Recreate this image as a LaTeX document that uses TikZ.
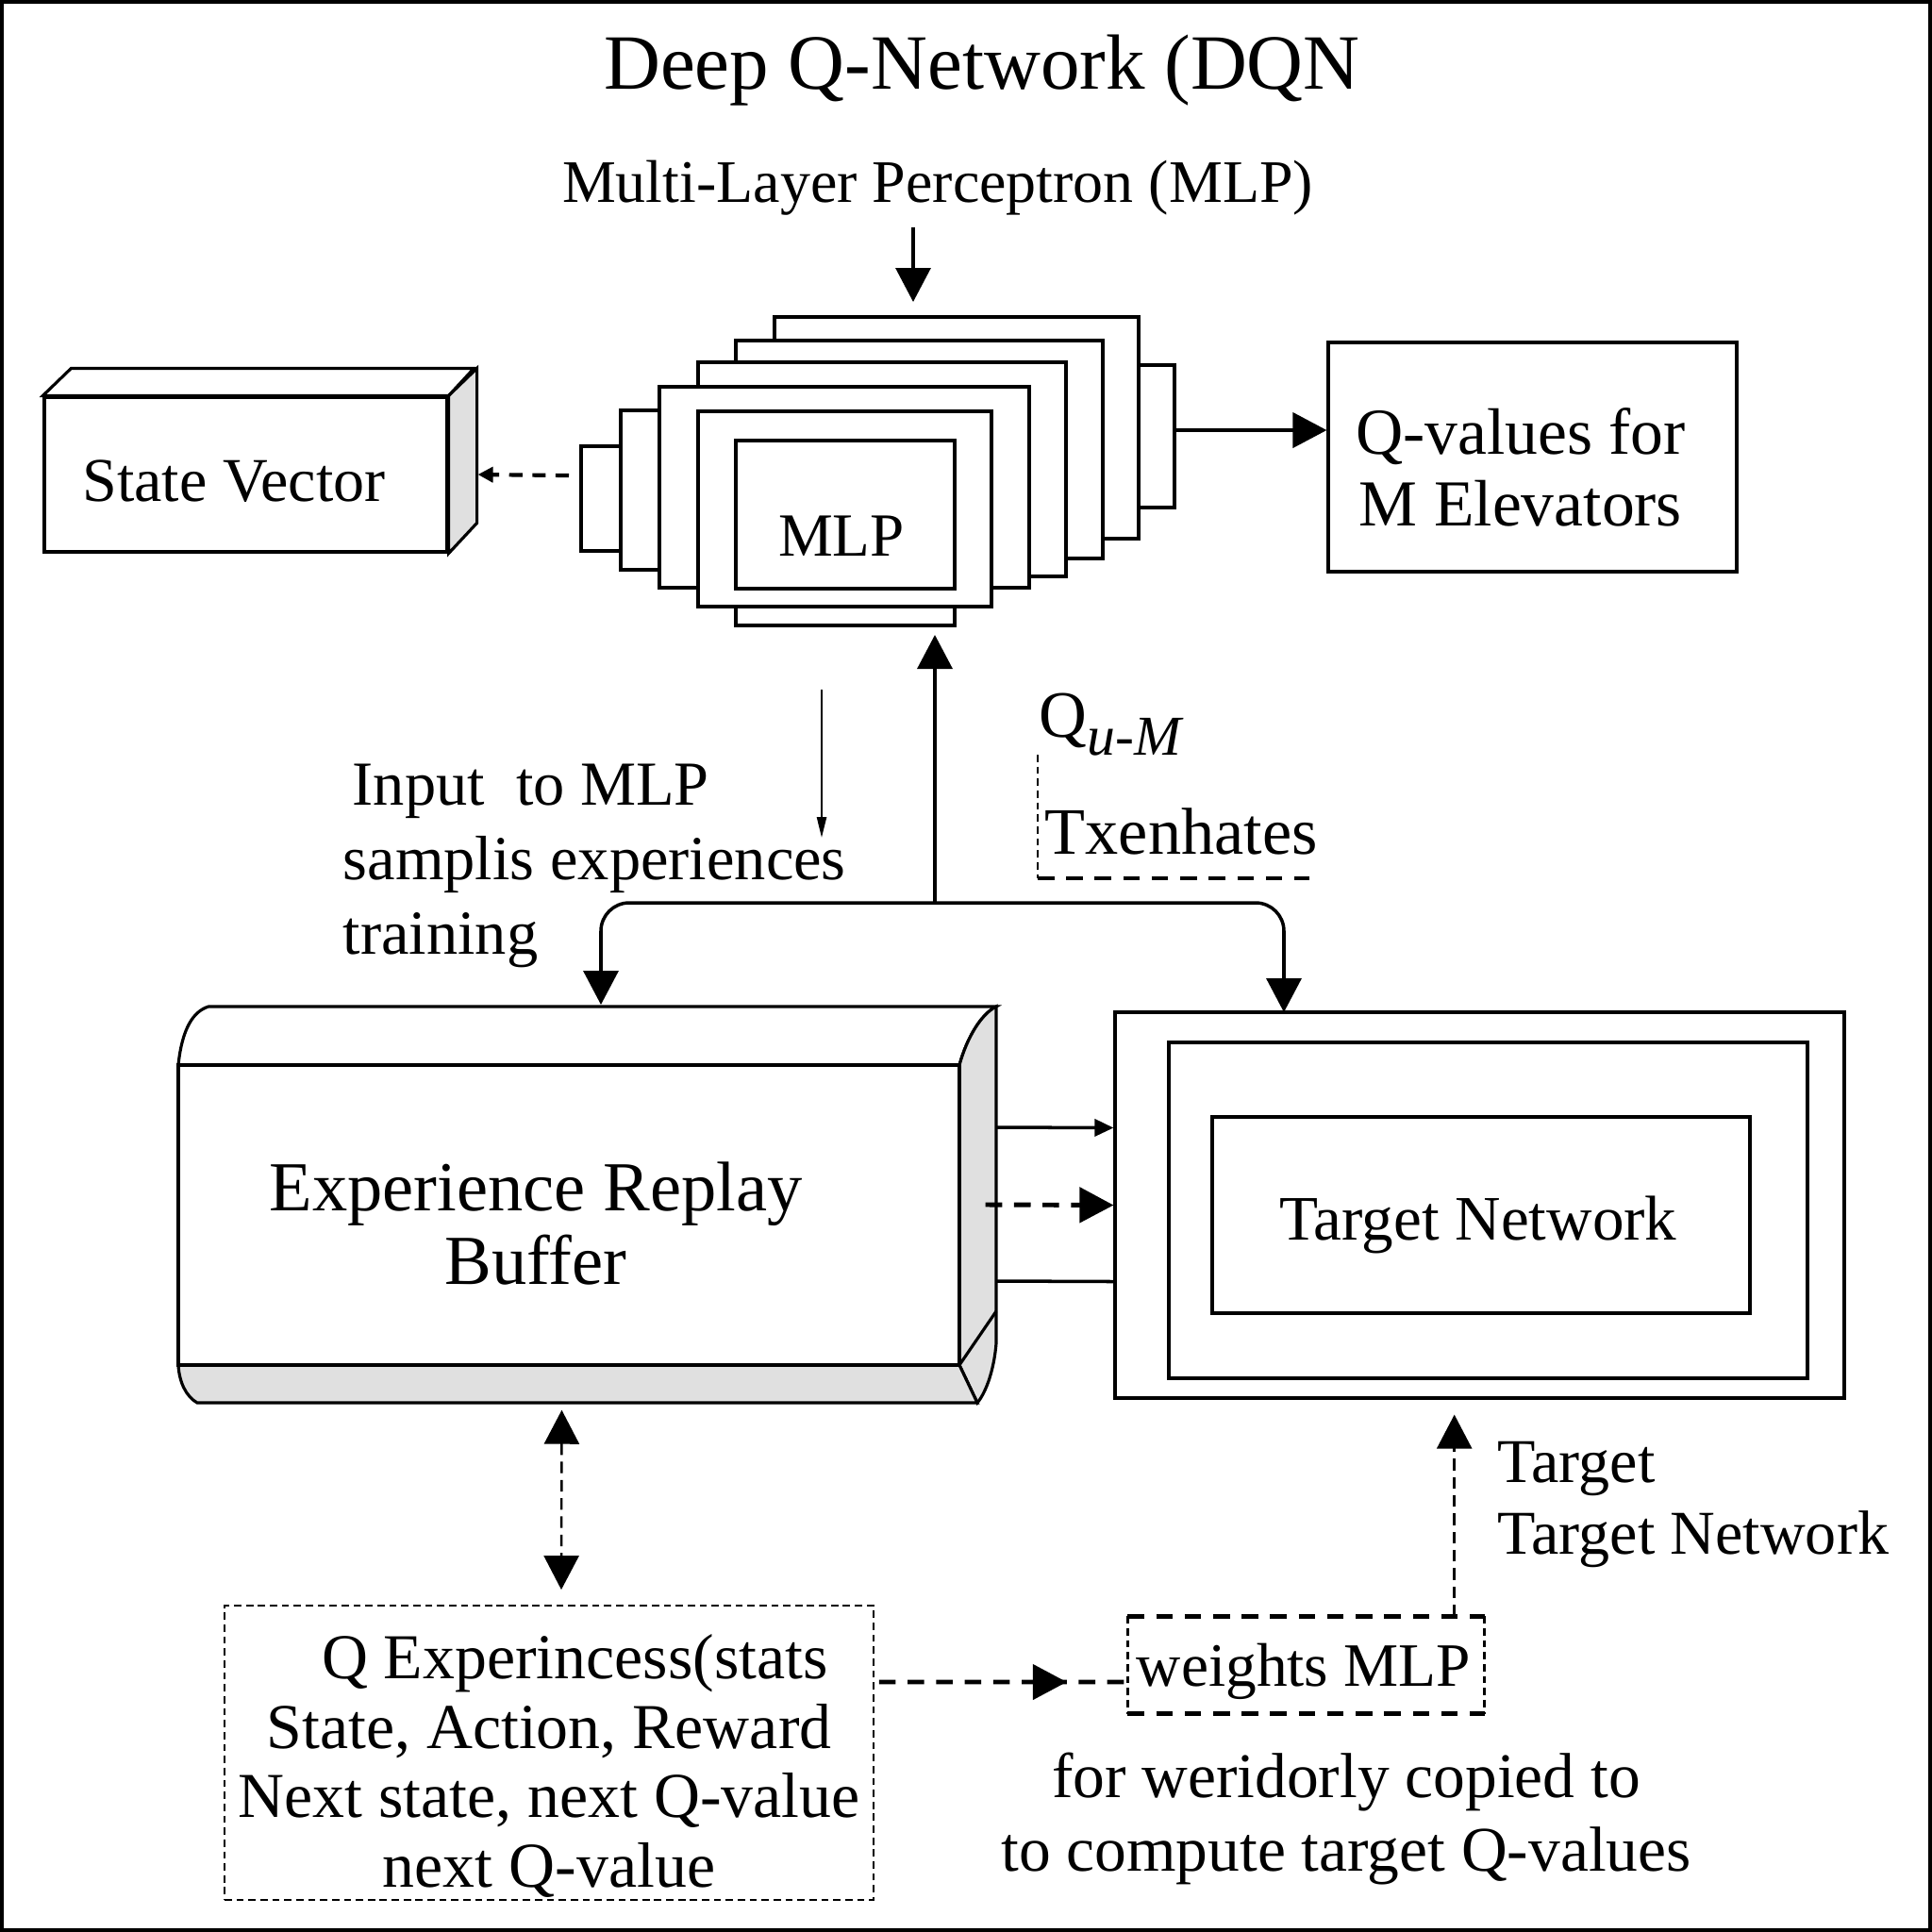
\documentclass[tikz,border=0pt]{standalone}
\usepackage{fontspec}
\setmainfont{Liberation Serif}
\usepackage{xcolor}
\usepackage{tikz}
\usetikzlibrary{arrows.meta,calc,decorations.markings}
\definecolor{sidegray}{HTML}{E0E0E0}
\tikzset{
  box/.style={draw, rectangle, line width=0.9pt, fill=white},
  bigtip/.tip={Triangle[length=0.36cm,width=0.37cm]},
  smalltip/.tip={Triangle[length=0.2cm,width=0.18cm]},
  thintip/.tip={Triangle[length=0.22cm,width=0.1cm]},
  thindash/.style={dash pattern=on 2.2pt off 1.4pt, line width=0.5pt},
  middash/.style={dash pattern=on 3.5pt off 2pt, line width=0.7pt},
  thickdash/.style={dash pattern=on 5pt off 3.6pt, line width=1.4pt},
}

\begin{document}
\begin{tikzpicture}%
\useasboundingbox (0,0) rectangle (20.48,-20.48);%
\draw[line width=1.1pt] (0.02,-0.02) rectangle (20.46,-20.46);%
\node[font=\fontsize{23.6}{28}\selectfont] (title) at (10.41,-0.75) {Deep Q-Network (DQN};%
\node[font=\fontsize{18.2}{22}\selectfont] (mlptitle) at (9.94,-1.99) {Multi-Layer Perceptron (MLP)};%
% state vector box
\node[box, minimum width=4.27cm, minimum height=1.64cm] (statevec) at (2.605,-5.03) {};%
\draw[line width=0.9pt, fill=white] (statevec.north west) -- ++(0.3,0.29) -- ++(4.27,0) -- (statevec.north east) -- cycle;%
\draw[line width=0.9pt, fill=sidegray] (statevec.north east) -- ++(0.3,0.29) -- ++(0,-1.64) -- (statevec.south east) -- cycle;%
\node[font=\fontsize{18.8}{22}\selectfont] (svtext) at (2.48,-5.10) {State Vector};%
% MLP stack
\draw[box] (6.16,-4.73) rectangle (7.00,-5.84);%
\draw[box] (6.58,-4.35) rectangle (7.20,-6.04);%
\draw[box] (11.50,-3.87) rectangle (12.45,-5.38);%
\draw[box] (7.80,-6.00) rectangle (10.12,-6.63);%
\draw[box] (8.21,-3.36) rectangle (12.07,-5.71);%
\draw[box] (7.80,-3.61) rectangle (11.69,-5.92);%
\draw[box] (7.40,-3.84) rectangle (11.30,-6.11);%
\draw[box] (6.99,-4.10) rectangle (10.91,-6.23);%
\draw[box] (7.40,-4.36) rectangle (10.51,-6.43);%
\node[box, minimum width=2.32cm, minimum height=1.57cm] (mlp) at (8.96,-5.455) {};%
\node[font=\fontsize{18.5}{22}\selectfont] (mlptext) at (8.92,-5.68) {MLP};%
\coordinate (stacktop) at (9.68,-3.20);%
\coordinate (stackbot) at (9.91,-6.73);%
\coordinate (stackleft) at (6.03,-5.04);%
\coordinate (stackright) at (12.47,-4.56);%
% Q-values box
\node[box, minimum width=4.33cm, minimum height=2.43cm] (qvals) at (16.245,-4.845) {};%
\node[align=center, font=\fontsize{19.8}{21.6}\selectfont] (qtext) at (16.12,-4.95) {Q-values for\\M Elevators};%
\draw[line width=0.9pt, -{bigtip}] (mlptitle.south -| stacktop) -- (stacktop);%
\draw[line width=1.2pt, -{bigtip}] (stackright) -- (stackright -| qvals.west);%
\draw[line width=1.2pt, dash pattern=on 4pt off 3pt, -{Triangle[length=0.16cm,width=0.16cm]}] (stackleft) -- ($(statevec.east)+(0.31,0)$);%
% middle labels
\node[anchor=west, inner sep=0, align=left, font=\fontsize{18.9}{22.5}\selectfont] (samples) at (3.63,-9.18) {\hspace*{0.1cm}Input~ to MLP\\samplis experiences\\training};%
\coordinate (downtop) at (8.71,-7.31);%
\coordinate (downbot) at (8.71,-8.88);%
\draw[line width=0.7pt, -{thintip}] (downtop) -- (downbot);%
\node[anchor=west, inner sep=0, font=\fontsize{20}{24}\selectfont] (qlabel) at (11.01,-7.68) {Q\raisebox{-0.6ex}{\fontsize{17}{20}\selectfont\textit{u}-\textit{M}}};%
\node[anchor=west, inner sep=0, font=\fontsize{20}{24}\selectfont] (txen) at (11.07,-8.81) {Txenhates};%
\draw[thindash, line width=0.7pt] (11.0,-8.0) -- (11.0,-9.31);%
\draw[thickdash] (11.0,-9.31) -- (13.88,-9.31);%
% experience replay buffer
\node[minimum width=8.67cm, minimum height=4.2cm, inner sep=0] (buffer) at (6.225,-12.77) {};%
\draw[line width=0.9pt, fill=white] (1.89,-11.29) .. controls (1.93,-10.9) and (2.05,-10.72) .. (2.21,-10.67) -- (10.56,-10.67) .. controls (10.4,-10.75) and (10.25,-11.0) .. (10.17,-11.29) -- cycle;%
\draw[line width=0.9pt, fill=sidegray] (10.17,-11.29) .. controls (10.25,-11.0) and (10.4,-10.75) .. (10.56,-10.67) -- (10.56,-14.24) .. controls (10.54,-14.5) and (10.46,-14.75) .. (10.36,-14.87) -- (10.17,-14.47) -- cycle;%
\draw[line width=0.9pt] (10.17,-14.47) -- (10.56,-13.9);%
\draw[line width=0.9pt, fill=sidegray] (1.89,-14.47) -- (10.17,-14.47) -- (10.36,-14.87) -- (2.09,-14.87) .. controls (1.97,-14.8) and (1.9,-14.65) .. (1.89,-14.47) -- cycle;%
\draw[line width=0.9pt, fill=white] (1.89,-11.29) rectangle (10.17,-14.47);%
\node[align=center, font=\fontsize{21.2}{22}\selectfont] (buftext) at (5.68,-12.97) {Experience Replay\\Buffer};%
% target network
\node[box, minimum width=7.73cm, minimum height=4.09cm] (target) at (15.685,-12.775) {};%
\node[box, minimum width=6.77cm, minimum height=3.56cm] (targetmid) at (15.775,-12.83) {};%
\node[box, minimum width=5.70cm, minimum height=2.08cm] (targetnet) at (15.70,-12.88) {};%
\node[font=\fontsize{19.1}{22}\selectfont] (tntext) at (15.67,-12.98) {Target Network};%
% fork from the MLP
\coordinate (fork) at (9.91,-9.57);%
\coordinate (buftop) at (6.37,-10.65);%
\coordinate (tgttop) at (13.61,-10.73);%
\draw[line width=1pt, -{bigtip}] (fork) -- (stackbot);%
\draw[line width=1pt, rounded corners=0.3cm, -{bigtip}] (fork) -| (buftop);%
\draw[line width=1pt, rounded corners=0.3cm, -{bigtip}] (fork) -| (tgttop);%
\draw[line width=1pt, -{smalltip}] ($(buffer.east)+(0,0.82)$) -- ($(target.west)+(0,0.82)$);%
\draw[thickdash, -{bigtip}] ($(buffer.east)+(-0.12,0)$) -- (target.west);%
\draw[line width=1pt] ($(buffer.east)+(0,-0.81)$) -- ($(target.west)+(0,-0.81)$);%
% experiences and weights
\node[draw, thindash, minimum width=6.88cm, minimum height=3.12cm] (exps) at (5.82,-18.58) {};%
\node[align=center, font=\fontsize{19.3}{20.9}\selectfont] (expstext) at (5.82,-18.72) {\hspace*{0.55cm}Q Experincess(stats\\State, Action, Reward\\Next state, next Q-value\\next Q-value};%
\draw[middash, {bigtip}-{bigtip}] ($(buffer.south)+(-0.27,-0.07)$) -- ($(exps.north)+(0.13,0.16)$);%
\node[minimum width=3.77cm, minimum height=1.02cm] (weights) at (13.845,-17.65) {};%
\node[font=\fontsize{18.6}{22}\selectfont] (wtext) at (13.82,-17.72) {weights MLP};%
\draw[thickdash] (weights.north west) -- (weights.north east);%
\draw[thickdash] (weights.south west) -- (weights.south east);%
\draw[thindash, line width=0.8pt] (weights.north west) -- (weights.south west);%
\draw[thindash, line width=0.8pt] (weights.north east) -- (weights.south east);%
\draw[thickdash, postaction={decorate}, decoration={markings, mark=at position 0.755 with {\arrow{bigtip}}}] ($(exps.east)+(0.05,0.75)$) -- ($(weights.west)+(0,-0.18)$);%
\draw[middash, -{bigtip}] ($(weights.north east)+(-0.32,0)$) -- ($(weights.north east |- target.south)+(-0.32,-0.16)$);%
\node[anchor=west, inner sep=0, align=left, font=\fontsize{18.8}{21.6}\selectfont] (targetlbl) at (15.87,-15.95) {Target\\Target Network};%
\node[align=center, font=\fontsize{19.2}{22.2}\selectfont] (note) at (14.27,-19.28) {for weridorly copied to\\to compute target Q-values};%
\end{tikzpicture}
\end{document}
